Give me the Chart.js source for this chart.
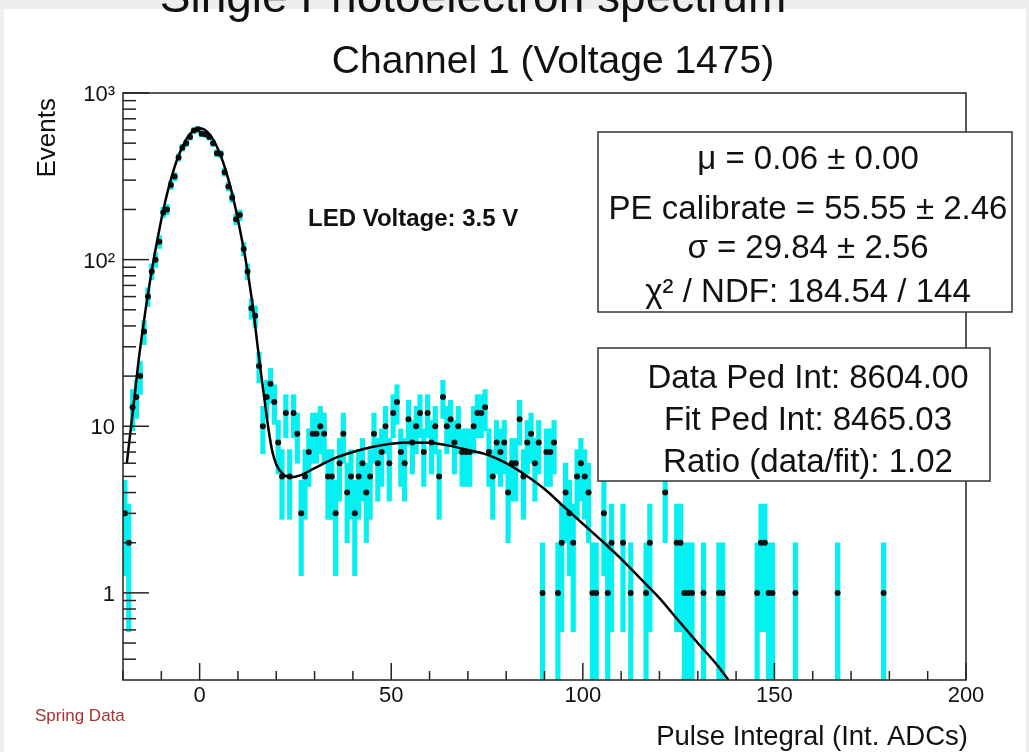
<!DOCTYPE html>
<html>
<head>
<meta charset="utf-8">
<title>Single Photoelectron spectrum</title>
<script src="https://cdn.jsdelivr.net/npm/chart.js@4.4.1/dist/chart.umd.min.js"></script>
<style>
  html, body { margin: 0; padding: 0; background: #eeeeee; }
  #wrap { width: 1029px; height: 752px; }
</style>
</head>
<body>
<div id="wrap"><canvas id="spectrum" width="1029" height="752"></canvas></div>
<script>
// histogram: 220 bins of width 1 starting at -20
const histLow = -20;
const binWidth = 1;
const counts = [
  3, 2, 13, 15, 20, 37, 60, 85, 100, 128, 192, 200, 280, 315, 410, 470, 500, 545, 595, 605,
  570, 565, 545, 500, 435, 430, 335, 275, 235, 175, 185, 116, 85, 51, 46, 23, 10, 15, 18, 14,
  8, 5, 12, 5, 12, 9, 3, 5, 7, 9, 9, 10, 9, 5, 5, 3, 6, 9, 4, 5,
  3, 5, 6, 4, 5, 9, 6, 7, 10, 6, 12, 14, 7, 6, 11, 8, 10, 12, 7, 12,
  8, 10, 5, 15, 10, 11, 8, 10, 7, 7, 7, 10, 12, 12, 13, 7, 5, 8, 7, 8,
  4, 6, 6, 11, 5, 8, 9, 6, 8, 1, 7, 7, 8, 1, 2, 4, 3, 2, 5, 6,
  5, 4, 1, 1, 0, 3, 1, 2, 0, 0, 2, 0, 1, 0, 0, 0, 1, 2, 0, 0,
  0, 4, 0, 0, 2, 2, 1, 1, 1, 0, 0, 1, 0, 0, 0, 1, 1, 0, 0, 0,
  0, 0, 0, 0, 0, 1, 2, 2, 1, 1, 0, 0, 0, 0, 0, 1, 0, 0, 0, 0,
  0, 0, 0, 0, 0, 0, 1, 0, 0, 0, 0, 0, 0, 0, 0, 0, 0, 0, 1, 0,
  0, 0, 0, 0, 0, 0, 0, 0, 0, 0, 0, 0, 0, 0, 0, 0, 0, 0, 0, 0
];

// fitted pedestal + single-PE curve
const fitX = [-19, -18, -17, -16, -15, -14, -13, -12, -11, -10, -9, -8, -7, -6, -5, -4, -3, -2, -1, 0,
  1, 2, 3, 4, 5, 6, 7, 8, 9, 10, 11, 12, 13, 14, 15, 16, 17, 18, 19, 20,
  22, 24, 26, 30, 35, 40, 45, 50, 55, 60, 65, 70, 75, 80, 85, 90, 95, 100,
  105, 110, 115, 120, 125, 130, 135, 138];
const fitY = [6, 9.5, 15, 24, 36, 52, 73, 100, 133, 174, 222, 275, 332, 391, 449, 503, 549, 585, 607, 615,
  607, 585, 549, 503, 449, 391, 332, 275, 222, 174, 133, 100, 72, 50, 32, 21, 14, 9.5, 7, 5.9,
  5.1, 4.95, 5.05, 5.6, 6.4, 7.0, 7.5, 7.85, 8.0, 7.95, 7.65, 7.2, 6.75, 6.0, 5.1, 4.2, 3.3, 2.6,
  2.05, 1.6, 1.22, 0.93, 0.68, 0.5, 0.37, 0.3];

const xMajorTicks = [0, 50, 100, 150, 200];
const xTickLabels = ['0', '50', '100', '150', '200'];
const yMajorTicks = [1, 10, 100, 1000];
const yTickLabels = ['1', '10', '10\u00b2', '10\u00b3'];

const statLines = ['\u03bc = 0.06 \u00b1 0.00', 'PE calibrate = 55.55 \u00b1 2.46',
  '\u03c3 = 29.84 \u00b1 2.56', '\u03c7\u00b2 / NDF: 184.54 / 144'];
const pedLines = ['Data Ped Int: 8604.00', 'Fit Ped Int: 8465.03', 'Ratio (data/fit): 1.02'];

const yMin = 0.33, yMax = 1000;
const FONT = "'Liberation Sans', Arial, Helvetica, sans-serif";

let markers = [];
let errors = [];
counts.forEach((n, i) => {
  if (n <= 0) return;
  const x = histLow + (i + 0.5) * binWidth;
  const e = Math.sqrt(n);
  markers.push({ x: x, y: n });
  errors.push({ x: x, y: [Math.max(n - e, yMin * 0.5), n + e] });
});
const fitPoints = fitX.map((x, i) => ({ x: x, y: fitY[i] }));

function text(ctx, str, x, y, size, align, opts) {
  opts = opts || {};
  ctx.font = (opts.bold ? 'bold ' : '') + size + 'px ' + FONT;
  ctx.fillStyle = opts.color || '#111';
  ctx.textAlign = align;
  ctx.textBaseline = 'alphabetic';
  ctx.fillText(str, x, y);
}

function line(ctx, x1, y1, x2, y2) {
  ctx.beginPath();
  ctx.moveTo(x1, y1);
  ctx.lineTo(x2, y2);
  ctx.stroke();
}

function statBox(ctx, l, t, r, b, lines, cx, baselines) {
  ctx.fillStyle = '#ffffff';
  ctx.fillRect(l, t, r - l, b - t);
  ctx.strokeStyle = '#333';
  ctx.lineWidth = 1.5;
  ctx.strokeRect(l, t, r - l, b - t);
  lines.forEach((s, i) => text(ctx, s, cx, baselines[i], 33, 'center'));
}

const rootFrame = {
  id: 'rootFrame',
  beforeDraw(chart) {
    const ctx = chart.ctx;
    ctx.save();
    ctx.fillStyle = '#eeeeee';
    ctx.fillRect(0, 0, chart.width, chart.height);
    ctx.fillStyle = '#ffffff';
    ctx.fillRect(4, 9, chart.width - 7, chart.height - 9);
    ctx.restore();
  },
  afterDatasetsDraw(chart) {
    const ctx = chart.ctx;
    const a = chart.chartArea;
    const xs = chart.scales.x, ys = chart.scales.y;
    ctx.save();
    ctx.strokeStyle = '#222';
    ctx.lineWidth = 1.5;
    ctx.strokeRect(a.left, a.top, a.right - a.left, a.bottom - a.top);

    // x axis ticks point up into the frame
    for (let v = -20; v <= 200; v += 10) {
      const px = xs.getPixelForValue(v);
      const len = xMajorTicks.includes(v) ? 17 : 9;
      line(ctx, px, a.bottom, px, a.bottom - len);
    }
    xMajorTicks.forEach((v, i) => {
      text(ctx, xTickLabels[i], xs.getPixelForValue(v), a.bottom + 22, 22, 'center');
    });

    // log y axis: decades plus 2..9 minors
    yMajorTicks.forEach(v => {
      const py = ys.getPixelForValue(v);
      line(ctx, a.left, py, a.left + 26, py);
    });
    for (let d = 0.1; d < yMax; d *= 10) {
      for (let m = 2; m <= 9; m++) {
        const v = m * d;
        if (v < yMin || v > yMax) continue;
        const py = ys.getPixelForValue(v);
        line(ctx, a.left, py, a.left + 13, py);
      }
    }
    yMajorTicks.forEach((v, i) => {
      const py = ys.getPixelForValue(v);
      text(ctx, yTickLabels[i], a.left - 8, py + 8, 22, 'right');
    });
    ctx.restore();
  },
  afterDraw(chart) {
    const ctx = chart.ctx;
    ctx.save();
    text(ctx, 'Single Photoelectron spectrum', 473, 12, 46, 'center');
    text(ctx, 'Channel 1 (Voltage 1475)', 553, 73, 39, 'center');
    text(ctx, 'LED Voltage: 3.5 V', 308, 226, 24, 'left', { bold: true });

    statBox(ctx, 598, 132, 1012, 312, statLines, 808, [169, 219, 258, 302]);
    statBox(ctx, 598, 348, 990, 481, pedLines, 808, [388, 430, 472]);

    // axis titles
    ctx.save();
    ctx.translate(55, 98);
    ctx.rotate(-Math.PI / 2);
    text(ctx, 'Events', 0, 0, 26, 'right');
    ctx.restore();
    text(ctx, 'Pulse Integral (Int. ADCs)', 968, 745, 27.5, 'right');
    text(ctx, 'Spring Data', 35, 721, 17, 'left', { color: '#a83232' });
    ctx.restore();
  }
};

new Chart(document.getElementById('spectrum'), {
  type: 'scatter',
  data: {
    datasets: [
      {
        type: 'line',
        data: fitPoints,
        borderColor: '#000',
        borderWidth: 2.5,
        pointRadius: 0,
        cubicInterpolationMode: 'monotone',
        order: 0
      },
      {
        type: 'scatter',
        data: markers,
        pointRadius: 3,
        pointBackgroundColor: '#111',
        pointBorderWidth: 0,
        order: 1
      },
      {
        type: 'bar',
        data: errors,
        backgroundColor: '#05f0f0',
        borderWidth: 0,
        barThickness: 4.5,
        order: 2
      }
    ]
  },
  options: {
    responsive: false,
    animation: false,
    layout: { padding: { left: 123, right: 63, top: 93, bottom: 72 } },
    plugins: {
      legend: { display: false },
      tooltip: { enabled: false },
      title: { display: false }
    },
    scales: {
      x: { type: 'linear', min: histLow, max: 200, display: false, offset: false },
      y: { type: 'logarithmic', min: yMin, max: yMax, display: false }
    }
  },
  plugins: [rootFrame]
});
</script>
</body>
</html>
